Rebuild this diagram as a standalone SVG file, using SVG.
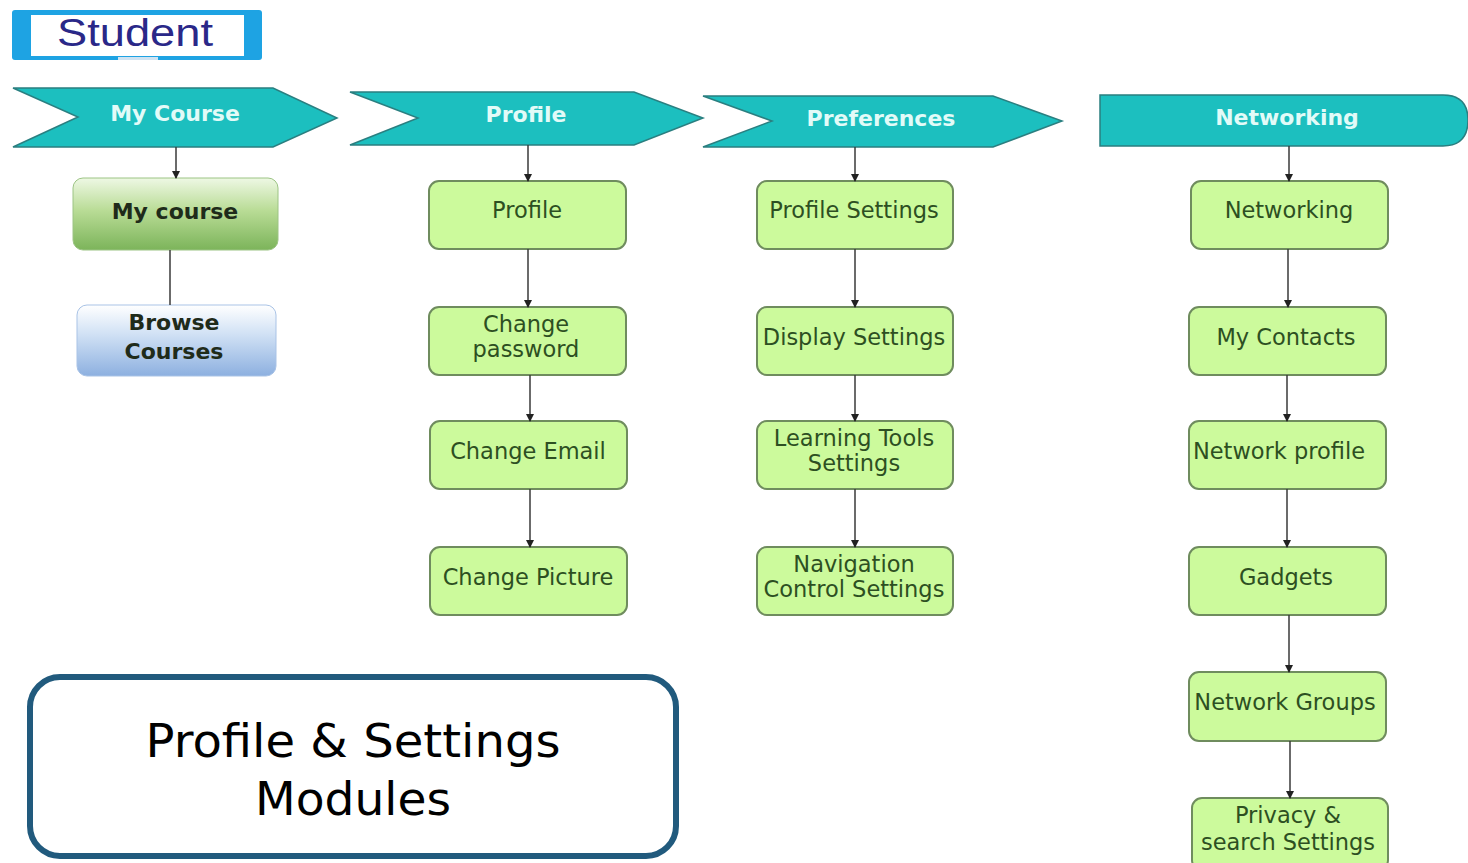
<svg xmlns="http://www.w3.org/2000/svg" width="1468" height="863" viewBox="0 0 1468 863">
<style>
.bg{fill:#ffffff}
.chev{fill:#1cbfbf;stroke:#2a7f80;stroke-width:1.5}
.chevt{font-family:"DejaVu Sans",Verdana,sans-serif;font-weight:bold;font-size:22px;fill:#e2fbf8;text-anchor:middle}
.node{fill:#ccfa9c;stroke:#6f8c5e;stroke-width:2}
.nt{font-family:"DejaVu Sans",Verdana,sans-serif;font-size:22.5px;fill:#2d4f22;text-anchor:middle}
.bt{font-family:"DejaVu Sans",Verdana,sans-serif;font-weight:bold;font-size:22px;fill:#1f2b1a;text-anchor:middle}
.conn{stroke:#3a3a3a;stroke-width:1.5;fill:none}
</style>
<defs>
<marker id="ah" markerWidth="8" markerHeight="8" refX="7" refY="4" orient="auto" markerUnits="userSpaceOnUse">
<path d="M0,0 L8,4 L0,8 Z" fill="#222"/>
</marker>
<linearGradient id="gGreen" x1="0" y1="0" x2="0" y2="1">
<stop offset="0" stop-color="#eef8e4"/>
<stop offset="0.45" stop-color="#b9dc96"/>
<stop offset="1" stop-color="#7cb45a"/>
</linearGradient>
<linearGradient id="gBlue" x1="0" y1="0" x2="0" y2="1">
<stop offset="0" stop-color="#ffffff"/>
<stop offset="0.4" stop-color="#d2e2f5"/>
<stop offset="1" stop-color="#8db0e0"/>
</linearGradient>
</defs>
<rect class="bg" x="0" y="0" width="1468" height="863"/>

<g id="student">
<rect x="12" y="10" width="250" height="50" rx="3" fill="#1ea3e3"/>
<rect x="31" y="15" width="213" height="41" fill="#ffffff"/>
<rect x="118" y="57" width="40" height="3" fill="#cfe3f2"/>
<text x="135" y="46" font-family="Liberation Sans,Arial,sans-serif" font-size="38" fill="#2a2888" text-anchor="middle" textLength="156" lengthAdjust="spacingAndGlyphs">Student</text>
</g>

<g id="hdr-mycourse">
<polygon class="chev" points="13,88 273,88 337,118 273,147 13,147 78,117"/>
<text class="chevt" x="175" y="121">My Course</text>
</g>
<g id="hdr-profile">
<polygon class="chev" points="350,92 634,92 703,118 634,145 350,145 418,118"/>
<text class="chevt" x="526" y="122">Profile</text>
</g>
<g id="hdr-preferences">
<polygon class="chev" points="703,96 993,96 1062,121 993,147 703,147 772,121"/>
<text class="chevt" x="881" y="126">Preferences</text>
</g>
<g id="hdr-networking">
<path class="chev" d="M1100,95 H1443 Q1468,95 1468,120 Q1468,146 1443,146 H1100 Z"/>
<text class="chevt" x="1287" y="125">Networking</text>
</g>

<g id="n-mycourse">
<rect x="73" y="178" width="205" height="72" rx="10" fill="url(#gGreen)" stroke="#9cc484" stroke-width="1"/>
<text class="bt" x="175" y="219">My course</text>
</g>
<g id="n-browse">
<rect x="77" y="305" width="199" height="71" rx="10" fill="url(#gBlue)" stroke="#a9c3e6" stroke-width="1"/>
<text class="bt" x="174" y="330">Browse</text>
<text class="bt" x="174" y="359">Courses</text>
</g>

<g id="n-profile"><rect class="node" x="429" y="181" width="197" height="68" rx="10"/><text class="nt" x="527" y="218">Profile</text></g>
<g id="n-chpass"><rect class="node" x="429" y="307" width="197" height="68" rx="10"/><text class="nt" x="526" y="332">Change</text><text class="nt" x="526" y="357">password</text></g>
<g id="n-chemail"><rect class="node" x="430" y="421" width="197" height="68" rx="10"/><text class="nt" x="528" y="459">Change Email</text></g>
<g id="n-chpic"><rect class="node" x="430" y="547" width="197" height="68" rx="10"/><text class="nt" x="528" y="585">Change Picture</text></g>

<g id="n-profset"><rect class="node" x="757" y="181" width="196" height="68" rx="10"/><text class="nt" x="854" y="218">Profile Settings</text></g>
<g id="n-dispset"><rect class="node" x="757" y="307" width="196" height="68" rx="10"/><text class="nt" x="854" y="345">Display Settings</text></g>
<g id="n-learn"><rect class="node" x="757" y="421" width="196" height="68" rx="10"/><text class="nt" x="854" y="446">Learning Tools</text><text class="nt" x="854" y="471">Settings</text></g>
<g id="n-nav"><rect class="node" x="757" y="547" width="196" height="68" rx="10"/><text class="nt" x="854" y="572">Navigation</text><text class="nt" x="854" y="597">Control Settings</text></g>

<g id="n-networking"><rect class="node" x="1191" y="181" width="197" height="68" rx="10"/><text class="nt" x="1289" y="218">Networking</text></g>
<g id="n-contacts"><rect class="node" x="1189" y="307" width="197" height="68" rx="10"/><text class="nt" x="1286" y="345">My Contacts</text></g>
<g id="n-netprof"><rect class="node" x="1189" y="421" width="197" height="68" rx="10"/><text class="nt" x="1279" y="459">Network profile</text></g>
<g id="n-gadgets"><rect class="node" x="1189" y="547" width="197" height="68" rx="10"/><text class="nt" x="1286" y="585">Gadgets</text></g>
<g id="n-netgroups"><rect class="node" x="1189" y="672" width="197" height="69" rx="10"/><text class="nt" x="1285" y="710">Network Groups</text></g>
<g id="n-privacy"><rect class="node" x="1192" y="798" width="196" height="72" rx="10"/><text class="nt" x="1288" y="823">Privacy &amp;</text><text class="nt" x="1288" y="850">search Settings</text></g>

<g id="connectors">
<line class="conn" x1="176" y1="147" x2="176" y2="178" marker-end="url(#ah)"/>
<line class="conn" x1="170" y1="250" x2="170" y2="305"/>
<line class="conn" x1="528" y1="145" x2="528" y2="181" marker-end="url(#ah)"/>
<line class="conn" x1="528" y1="249" x2="528" y2="307" marker-end="url(#ah)"/>
<line class="conn" x1="530" y1="375" x2="530" y2="421" marker-end="url(#ah)"/>
<line class="conn" x1="530" y1="489" x2="530" y2="547" marker-end="url(#ah)"/>
<line class="conn" x1="855" y1="147" x2="855" y2="181" marker-end="url(#ah)"/>
<line class="conn" x1="855" y1="249" x2="855" y2="307" marker-end="url(#ah)"/>
<line class="conn" x1="855" y1="375" x2="855" y2="421" marker-end="url(#ah)"/>
<line class="conn" x1="855" y1="489" x2="855" y2="547" marker-end="url(#ah)"/>
<line class="conn" x1="1289" y1="146" x2="1289" y2="181" marker-end="url(#ah)"/>
<line class="conn" x1="1288" y1="249" x2="1288" y2="307" marker-end="url(#ah)"/>
<line class="conn" x1="1287" y1="375" x2="1287" y2="421" marker-end="url(#ah)"/>
<line class="conn" x1="1287" y1="489" x2="1287" y2="547" marker-end="url(#ah)"/>
<line class="conn" x1="1289" y1="615" x2="1289" y2="672" marker-end="url(#ah)"/>
<line class="conn" x1="1290" y1="741" x2="1290" y2="798" marker-end="url(#ah)"/>
</g>

<g id="title">
<rect x="30" y="677" width="646" height="179" rx="30" fill="#ffffff" stroke="#215a7d" stroke-width="6"/>
<text x="353" y="757" font-family="DejaVu Sans,Verdana,sans-serif" font-size="47" fill="#000" text-anchor="middle" textLength="415" lengthAdjust="spacingAndGlyphs">Profile &amp; Settings</text>
<text x="353" y="815" font-family="DejaVu Sans,Verdana,sans-serif" font-size="47" fill="#000" text-anchor="middle" textLength="196" lengthAdjust="spacingAndGlyphs">Modules</text>
</g>
</svg>
